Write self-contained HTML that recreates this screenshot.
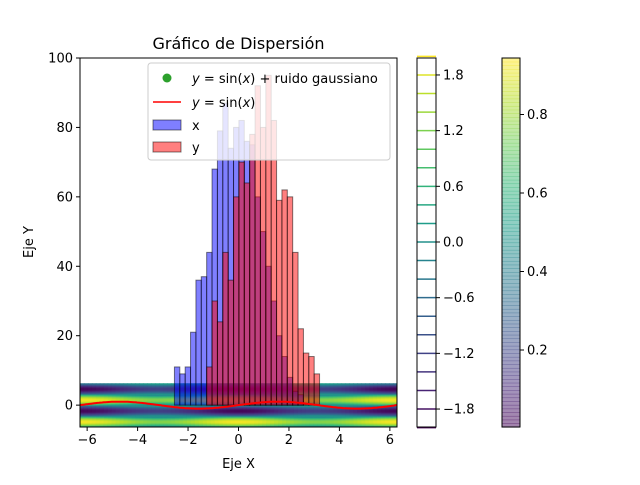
<!DOCTYPE html>
<html><head><meta charset="utf-8"><style>
body{margin:0;background:#fff}
svg text{font-family:"DejaVu Sans","Liberation Sans",sans-serif;fill:#000}
</style></head><body>
<svg id="c" width="640" height="480" viewBox="0 0 640 480" xmlns="http://www.w3.org/2000/svg">
<defs><clipPath id="ax"><rect x="80" y="58" width="317" height="369"/></clipPath></defs>
<g id="plot" clip-path="url(#ax)"></g>
<g id="deco"></g>
</svg>
<script>
const xTicks=[-6,-4,-2,0,2,4,6];
const yTicks=[0,20,40,60,80,100];
const cbTicks=[-1.8,-1.2,-0.6,0.0,0.6,1.2,1.8];
const cb2Ticks=[0.2,0.4,0.6,0.8];
const binWidth=0.213;
const blueStart=-2.54;
const blueCounts=[11,9,11,21,36,37,44,68,79,87,74,80,82,76,75,60,50,40,30,20,14,8,4,3];
const redStart=-1.26;
const redCounts=[11,30,24,44,36,60,70,64,78,92,80,95,82,59,62,60,44,22,15,14,9];
const NS="http://www.w3.org/2000/svg";
const X0=80,X1=397,Y0=58,Y1=427;
const xmin=-6.2832,xmax=6.2832,ymin=-6.3,ymax=100;
const sx=v=>X0+(v-xmin)/(xmax-xmin)*(X1-X0);
const sy=v=>Y1-(v-ymin)/(ymax-ymin)*(Y1-Y0);
function el(t,a,p){const e=document.createElementNS(NS,t);for(const k in a)e.setAttribute(k,a[k]);(p||document.getElementById('deco')).appendChild(e);return e;}
const V=[[68,1,84],[72,40,120],[62,73,137],[49,104,142],[38,130,142],[31,158,137],[53,183,121],[110,206,88],[181,222,43],[253,231,37]];
function vir(t){t=Math.max(0,Math.min(1,t))*9;const i=Math.min(8,Math.floor(t)),f=t-i;const c=V[i].map((v,k)=>Math.round(v+(V[i+1][k]-v)*f));return `rgb(${c})`;}
const plot=document.getElementById('plot');
const NX=80,NY=60;
for(let gx=0;gx<NX;gx++){for(let gy=0;gy<NY;gy++){
 const x=xmin+(gx+0.5)/NX*(xmax-xmin), y=-6.3+(gy+0.5)/NY*12.6;
 const z=1.6*Math.sin(y)+0.35*Math.cos(x)*Math.sign(Math.sin(y));
 const h=12.6/NY/2;
 const r=el('rect',{x:sx(x-(xmax-xmin)/NX/2),y:sy(y+h),width:(X1-X0)/NX+0.5,height:sy(-h)-sy(h)+0.5,fill:vir((z+2)/4)},plot);
 
 
}}
function bars(start,counts,fill,name){counts.forEach((c,i)=>{const x=start+i*binWidth;
 const r=el('rect',{x:sx(x),y:sy(c),width:sx(x+binWidth)-sx(x),height:sy(0)-sy(c),fill:fill,'fill-opacity':0.5,stroke:'#000','stroke-opacity':0.5,'stroke-width':1},plot);
 
 });}
bars(blueStart,blueCounts,'#0000ff','bar-x');
bars(redStart,redCounts,'#ff0000','bar-y');
let d='';for(let i=0;i<=200;i++){const x=xmin+i/200*(xmax-xmin);d+=(i?'L':'M')+sx(x).toFixed(1)+','+sy(Math.sin(x)).toFixed(1);}
const ln=el('path',{d:d,fill:'none',stroke:'#ff0000','stroke-width':2},plot);


el('rect',{x:X0,y:Y0,width:X1-X0,height:Y1-Y0,fill:'none',stroke:'#000','stroke-width':1});
xTicks.forEach(t=>{el('line',{x1:sx(t),x2:sx(t),y1:Y1,y2:Y1+4,stroke:'#000'});const tx=el('text',{x:sx(t),y:Y1+17,'font-size':13,'text-anchor':'middle'});tx.textContent=(t<0?'−'+(-t):t);});
yTicks.forEach(t=>{el('line',{x1:X0-4,x2:X0,y1:sy(t),y2:sy(t),stroke:'#000'});const tx=el('text',{x:X0-7,y:sy(t)+4.5,'font-size':13,'text-anchor':'end'});tx.textContent=t;});
const C1=417,C2=436;
const cby=v=>242-v*92.8;
for(let k=0;k<=20;k++){const v=-2+k*0.2;el('line',{x1:C1,x2:C2,y1:cby(v),y2:cby(v),stroke:vir((v+2)/4),'stroke-width':1.5});}
el('rect',{x:C1,y:Y0,width:C2-C1,height:Y1-Y0,fill:'none',stroke:'#000'});
cbTicks.forEach(t=>{el('line',{x1:C2,x2:C2+4,y1:cby(t),y2:cby(t),stroke:'#000'});const tx=el('text',{x:C2+7,y:cby(t)+4.5,'font-size':13});tx.textContent=(t<0?'−'+(-t).toFixed(1):t.toFixed(1));});
const D1=502,D2=520;const cb2y=v=>350-(v-0.2)/0.2*78.5;
for(let i=0;i<100;i++){const y=Y0+i*(Y1-Y0)/100;const v=0.943-i/100*0.939;el('rect',{x:D1,y:y,width:D2-D1,height:(Y1-Y0)/100+0.6,fill:vir(v/0.943),'fill-opacity':0.5});}
el('rect',{x:D1,y:Y0,width:D2-D1,height:Y1-Y0,fill:'none',stroke:'#000'});
cb2Ticks.forEach(t=>{el('line',{x1:D2,x2:D2+4,y1:cb2y(t),y2:cb2y(t),stroke:'#000'});const tx=el('text',{x:D2+7,y:cb2y(t)+4.5,'font-size':13});tx.textContent=t.toFixed(1);});
</script>
<svg width="640" height="480" style="position:absolute;left:0;top:0" xmlns="http://www.w3.org/2000/svg">
<text x="238.5" y="49" font-size="16" text-anchor="middle">Gráfico de Dispersión</text>
<text x="238.5" y="468" font-size="13" text-anchor="middle">Eje X</text>
<text x="33" y="242" font-size="13" text-anchor="middle" transform="rotate(-90 33 242)">Eje Y</text>
<g>
<rect x="148" y="63" width="242" height="97" rx="3" fill="#fff" fill-opacity="0.8" stroke="#ccc"/>
<circle cx="167" cy="78" r="4.5" fill="#2ca02c"/>
<text x="192" y="83" font-size="13"><tspan font-style="italic">y</tspan> = sin(<tspan font-style="italic">x</tspan>) + ruido gaussiano</text>
<line x1="153" x2="181" y1="102" y2="102" stroke="#ff0000" stroke-width="1.5"/>
<text x="192" y="107" font-size="13"><tspan font-style="italic">y</tspan> = sin(<tspan font-style="italic">x</tspan>)</text>
<rect x="153" y="120" width="28" height="10" fill="#0000ff" fill-opacity="0.5" stroke="#000" stroke-opacity="0.5"/>
<text x="192" y="130" font-size="13">x</text>
<rect x="153" y="142" width="28" height="10" fill="#ff0000" fill-opacity="0.5" stroke="#000" stroke-opacity="0.5"/>
<text x="192" y="152" font-size="13">y</text>
</g>
</svg>
</body></html>
